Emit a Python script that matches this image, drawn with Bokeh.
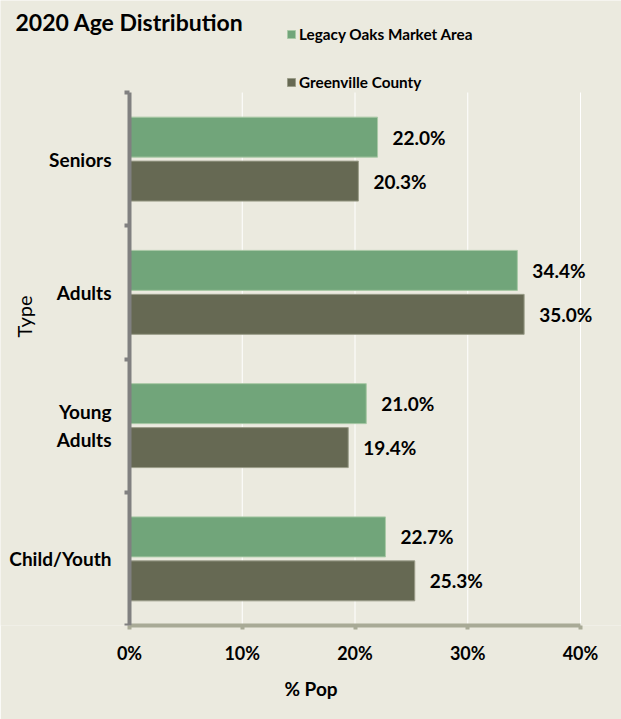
import math
from bokeh.plotting import figure
from bokeh.models import (Range1d, FixedTicker, ColumnDataSource, Legend, LegendItem,
                          Label, CustomJSTickFormatter)
from bokeh.core.properties import value
from bokeh.embed import file_html
from bokeh.resources import INLINE

categories = ["Child/Youth", "Young\nAdults", "Adults", "Seniors"]
market = [22.7, 21.0, 34.4, 22.0]
county = [25.3, 19.4, 35.0, 20.3]
series_names = ["Legacy Oaks Market Area", "Greenville County"]
x_ticks = [0, 10, 20, 30, 40]
x_tick_labels = ["0%", "10%", "20%", "30%", "40%"]

BG = "#EBEADF"
GREEN = "#71A57A"
DARK = "#666953"
FONT = "Lato"

W, H = 621, 719
PX_PER_PCT = 11.275      # horizontal scale (pixels per percent)
PX_PER_CAT = 133.25      # vertical scale (pixels per category band)
AXIS_X = 129             # pixel position of 0%
AXIS_Y = 625             # pixel position of category bottom
n = len(categories)

idx = list(range(n))
src_m = ColumnDataSource(dict(y=[i + 0.5 + 0.165 for i in idx], v=market,
                              t=["%.1f%%" % v for v in market]))
src_c = ColumnDataSource(dict(y=[i + 0.5 - 0.165 for i in idx], v=county,
                              t=["%.1f%%" % v for v in county]))
grid_src = ColumnDataSource(dict(x=x_ticks, y0=[0] * len(x_ticks), y1=[n] * len(x_ticks)))

x_range = Range1d(-AXIS_X / PX_PER_PCT, (W - AXIS_X) / PX_PER_PCT)
y_range = Range1d(0, AXIS_Y / PX_PER_CAT)

p = figure(width=W, height=H, output_backend="svg", toolbar_location=None,
           x_range=x_range, y_range=y_range,
           min_border_left=0, min_border_right=0, min_border_top=0,
           min_border_bottom=H - AXIS_Y)
p.background_fill_color = BG
p.border_fill_color = BG
p.outline_line_color = None
p.xgrid.visible = False
p.ygrid.visible = False

# white vertical gridlines within the category area
p.segment(x0="x", x1="x", y0="y0", y1="y1", source=grid_src, line_color="#FFFFFF", line_width=1)

r1 = p.hbar(y="y", right="v", left=0, height=0.3, source=src_m, fill_color=GREEN,
            line_color="#A9C9A6", line_width=1)
r2 = p.hbar(y="y", right="v", left=0, height=0.3, source=src_c, fill_color=DARK,
            line_color="#9A9C88", line_width=1)

for s in (src_m, src_c):
    p.text(x="v", y="y", text="t", source=s, x_offset=15, text_align="left",
           text_baseline="middle", text_font=value(FONT), text_font_style="bold",
           text_font_size="19px", text_color="#000000")

# x axis
xa = p.xaxis[0]
xa.ticker = FixedTicker(ticks=x_ticks)
xa.bounds = (x_ticks[0], x_ticks[-1])
xa.major_label_overrides = {t: l for t, l in zip(x_ticks, x_tick_labels)}
xa.axis_line_color = "#A8AA96"
xa.axis_line_width = 4
xa.major_tick_line_color = "#A8AA96"
xa.major_tick_line_width = 4
xa.major_tick_out = 4
xa.major_tick_in = 0
xa.minor_tick_line_color = None
xa.major_label_text_font = FONT
xa.major_label_text_font_style = "bold"
xa.major_label_text_font_size = "18px"
xa.major_label_text_color = "#000000"
xa.major_label_standoff = 12
xa.axis_label = "% Pop"
xa.axis_label_text_font = FONT
xa.axis_label_text_font_style = "bold"
xa.axis_label_text_font_size = "19px"
xa.axis_label_text_color = "#000000"
xa.axis_label_standoff = 10

# y axis (fixed at 0%)
ya = p.yaxis[0]
ya.fixed_location = 0
ya.bounds = (0, n)
ya.ticker = FixedTicker(ticks=[i + 0.5 for i in idx], minor_ticks=list(range(n + 1)))
ya.formatter = CustomJSTickFormatter(args=dict(labels=categories),
                                     code="return labels[Math.round(tick - 0.5)];")
ya.axis_line_color = "#808080"
ya.axis_line_width = 4
ya.major_tick_line_color = None
ya.major_tick_out = 0
ya.major_tick_in = 0
ya.minor_tick_line_color = "#808080"
ya.minor_tick_line_width = 4
ya.minor_tick_out = 5
ya.minor_tick_in = 0
ya.major_label_text_font = FONT
ya.major_label_text_font_style = "bold"
ya.major_label_text_font_size = "19px"
ya.major_label_text_color = "#000000"
ya.major_label_standoff = 13

# y axis title
p.add_layout(Label(x=23, y=AXIS_Y - 316, x_units="screen", y_units="screen", angle=math.pi / 2,
                   text="Type", text_font=FONT, text_font_size="20px",
                   text_color="#000000", text_align="center", text_baseline="middle"))

# legend
legend = Legend(items=[LegendItem(label=series_names[0], renderers=[r1]),
                       LegendItem(label=series_names[1], renderers=[r2])],
                location=(286, 533), orientation="vertical",
                background_fill_alpha=0, border_line_color=None,
                glyph_width=10, glyph_height=10, label_standoff=3, label_height=20,
                spacing=28, padding=0, margin=0,
                label_text_font=FONT, label_text_font_style="bold",
                label_text_font_size="15.3px", label_text_color="#000000")
p.add_layout(legend, "center")

# title
p.add_layout(Label(x=15, y=AXIS_Y - 21, x_units="screen", y_units="screen",
                   text="2020 Age Distribution", text_font=FONT, text_font_style="bold",
                   text_font_size="23px", text_color="#000000", text_baseline="alphabetic"))

open("out.html", "w").write(file_html(p, INLINE))
